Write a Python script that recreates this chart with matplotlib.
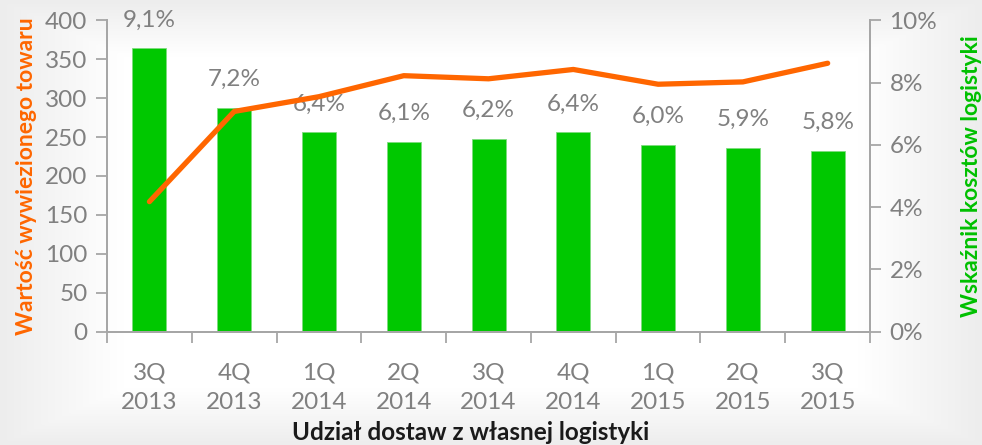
import matplotlib
matplotlib.use("Agg")
import matplotlib.pyplot as plt
import numpy as np

categories = ["3Q\n2013", "4Q\n2013", "1Q\n2014", "2Q\n2014", "3Q\n2014",
              "4Q\n2014", "1Q\n2015", "2Q\n2015", "3Q\n2015"]
cost_ratio = [9.1, 7.2, 6.4, 6.1, 6.2, 6.4, 6.0, 5.9, 5.8]
cost_labels = ["9,1%", "7,2%", "6,4%", "6,1%", "6,2%", "6,4%", "6,0%", "5,9%", "5,8%"]
goods_value = [167, 283, 302, 329, 325, 337, 318, 321, 345]
left_ticks = [0, 50, 100, 150, 200, 250, 300, 350, 400]
right_ticks = [0, 2, 4, 6, 8, 10]

plt.rcParams['font.family'] = ['Lato', 'DejaVu Sans']

fig = plt.figure(figsize=(9.82, 4.45), dpi=100)

# subtle slide background vignette
bg = fig.add_axes([0, 0, 1, 1], zorder=-10)
yy, xx = np.mgrid[0:1:200j, 0:1:400j]
d = np.clip(np.maximum(np.abs(xx - 0.5) * 2.0, np.abs(yy - 0.5) * 2.0), 0, 1)
shade = 1.0 - 0.07 * np.clip((d - 0.75) / 0.25, 0, 1)
bg.imshow(np.dstack([shade, shade, shade]), extent=[0, 1, 0, 1], aspect='auto', origin='lower')
bg.axis('off')

grey = '#808080'
spine_c = '#A6A6A6'

ax = fig.add_axes([0.109, 0.255, 0.777, 0.699])
ax2 = ax.twinx()
ax.set_zorder(ax2.get_zorder() + 1)
ax.patch.set_visible(False)
ax2.patch.set_visible(False)

x = np.arange(len(categories))
ax2.bar(x, cost_ratio, width=0.4, color='#00C800', edgecolor='#7ddc7d', linewidth=0.6)
for xi, v, lab in zip(x, cost_ratio, cost_labels):
    ax2.annotate(lab, (xi, v), xytext=(0, 13), textcoords='offset points',
                 ha='center', va='bottom', fontsize=17.5, color=grey)

ax.plot(x, goods_value, color='#FF6600', linewidth=3.8, solid_capstyle='round',
        solid_joinstyle='round')

ax.set_xlim(-0.5, len(categories) - 0.5)
ax.set_ylim(0, 400)
ax2.set_ylim(0, 10)
ax.set_yticks(left_ticks)
ax.set_yticklabels([str(t) for t in left_ticks])
ax2.set_yticks(right_ticks)
ax2.set_yticklabels([f"{t}%" for t in right_ticks])

ax.set_xticks(x)
ax.set_xticklabels(categories, linespacing=1.55)
ax.set_xticks(np.arange(-0.5, len(categories), 1.0), minor=True)
ax.tick_params(axis='x', which='major', length=0, pad=22, labelsize=17.5, labelcolor=grey)
ax.tick_params(axis='x', which='minor', length=8, width=1.3, color=spine_c, direction='out')
ax.tick_params(axis='y', length=8, width=1.3, color=spine_c, labelsize=17.5, labelcolor=grey, pad=6)
ax2.tick_params(axis='y', length=8, width=1.3, color=spine_c, labelsize=17.5, labelcolor=grey, pad=6)

for a in (ax, ax2):
    a.spines['top'].set_visible(False)
    for s in ('left', 'right', 'bottom'):
        a.spines[s].set_color(spine_c)
        a.spines[s].set_linewidth(1.3)

ax.set_ylabel("Wartość wywiezionego towaru", color='#FF6600', fontsize=16.5,
              fontweight='bold', labelpad=6)
ax2.set_ylabel("Wskaźnik kosztów logistyki", color='#00C000', fontsize=16.5,
               fontweight='bold', rotation=90, labelpad=17)
ax.set_xlabel("Udział dostaw z własnej logistyki", color='#1a1a1a', fontsize=17.5,
              fontweight='bold')
ax.xaxis.label.set_verticalalignment('center')
ax.xaxis.set_label_coords(0.477, -0.326)

fig.savefig("out.png", dpi=100)
